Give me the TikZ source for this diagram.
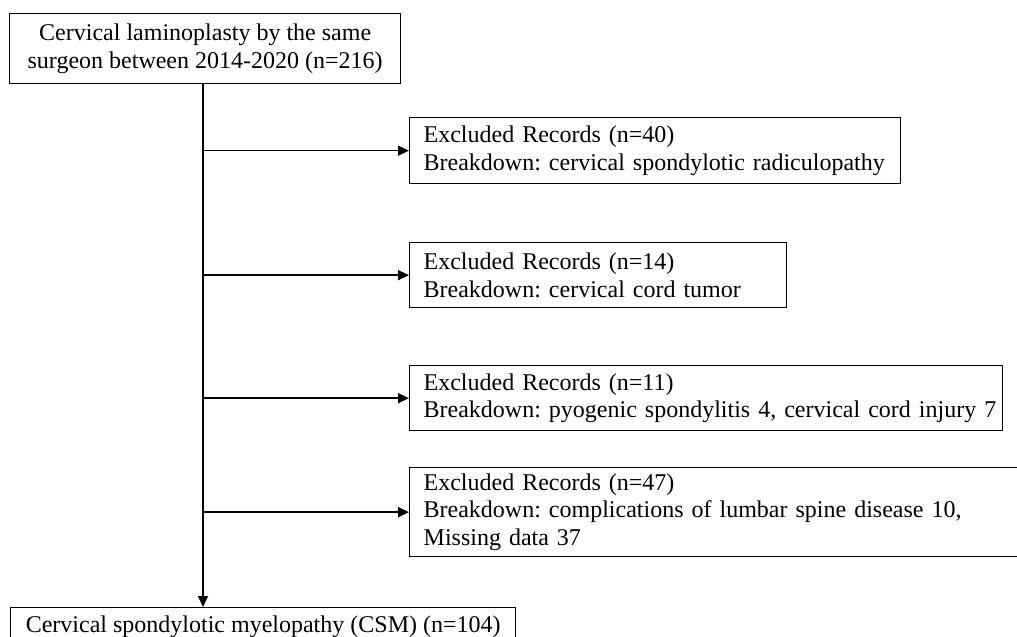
\documentclass[tikz,border=0pt]{standalone}
\usepackage{fontspec}
\setmainfont{Liberation Serif}
\usetikzlibrary{arrows.meta}
\begin{document}
\frenchspacing
\begin{tikzpicture}[x=0.75pt,y=-0.75pt,
  font=\fontsize{18}{20.7}\selectfont\frenchspacing,
  box/.style={draw=black, line width=1pt, anchor=north west, inner ysep=0pt, inner xsep=10.5pt, align=left},
  conn/.style={line width=1.1pt, -{Triangle[length=8.25pt,width=7.5pt]}}]
\useasboundingbox (0,0) rectangle (1017,636);
\node[box, align=center, minimum width=293.25pt, minimum height=52.5pt] (top) at (9,13)
  {Cervical laminoplasty by the same\\surgeon between 2014-2020 (n=216)};
\node[box, minimum width=368.25pt, text width=347.25pt, minimum height=49.5pt] (ex1) at (409,117)
  {\mbox{Excluded Records (n=40)}\\\mbox{Breakdown: cervical spondylotic radiculopathy}};
\node[box, minimum width=282.75pt, text width=261.75pt, minimum height=48.75pt] (ex2) at (409,242)
  {\mbox{Excluded Records (n=14)}\\\mbox{Breakdown: cervical cord tumor}};
\node[box, minimum width=444.75pt, text width=423.75pt, minimum height=48.75pt] (ex3) at (409,365)
  {\mbox{Excluded Records (n=11)}\\\mbox{Breakdown: pyogenic spondylitis 4, cervical cord injury 7}};
\node[box, minimum width=462pt, text width=441pt, minimum height=66.75pt] (ex4) at (409,467)
  {\mbox{Excluded Records (n=47)}\\\mbox{Breakdown: complications of lumbar spine disease 10,}\\\mbox{Missing data 37}};
\node[box, align=center, minimum width=378.75pt, minimum height=28.5pt] (bot) at (10,607)
  {Cervical spondylotic myelopathy (CSM) (n=104)};
\coordinate (spine) at (203,0);
\draw[conn] (top.south -| spine) -- (bot.north -| spine);
\draw[conn] (ex1.west -| spine) -- (ex1.west);
\draw[conn] (ex2.west -| spine) -- (ex2.west);
\draw[conn] (ex3.west -| spine) -- (ex3.west);
\draw[conn] (ex4.west -| spine) -- (ex4.west);
\end{tikzpicture}
\end{document}
